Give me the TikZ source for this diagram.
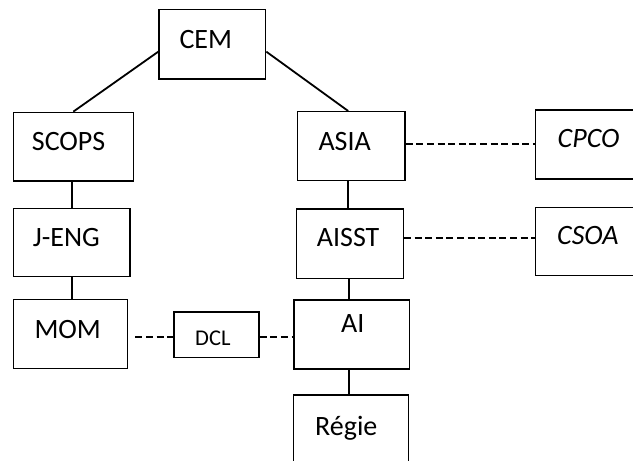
\documentclass[tikz,border=0pt]{standalone}
\usepackage{fontspec}
\setmainfont{Carlito}
\usetikzlibrary{calc}
\begin{document}
\begin{tikzpicture}[x=1pt,y=-1pt,
  box/.style={draw=black,line width=1.4pt,inner sep=0pt,fill=white},
  lbl/.style={anchor=base west,inner sep=0pt,font=\fontsize{28}{32}\selectfont},
  small/.style={anchor=base west,inner sep=0pt,font=\fontsize{22.5}{26}\selectfont},
  link/.style={draw=black,line width=1.8pt},
  dlink/.style={draw=black,line width=2pt,dash pattern=on 7pt off 3.6pt}]
\useasboundingbox (0,0) rectangle (633,461);

% boxes of the chart
\node[box,minimum width=106.7pt,minimum height=69.7pt] (cem)   at (212.3,44.2)  {};
\node[box,minimum width=120pt,  minimum height=68.7pt] (scops) at (73.3,146.7)  {};
\node[box,minimum width=116.7pt,minimum height=68.4pt] (jeng)  at (71.7,242.5)  {};
\node[box,minimum width=114.4pt,minimum height=69pt]   (mom)   at (70.5,333.8)  {};
\node[box,minimum width=107.7pt,minimum height=69pt]   (asia)  at (351.2,146.2) {};
\node[box,minimum width=106.6pt,minimum height=69.3pt] (aisst) at (350,243.7)   {};
\node[box,minimum width=108pt,  minimum height=69pt]   (cpco)  at (589.7,144.5) {};
\node[box,minimum width=108pt,  minimum height=68.4pt] (csoa)  at (589.7,241.5) {};
\node[box,minimum width=85pt,   minimum height=45.7pt] (dcl)   at (216.5,334.9) {};
\node[box,minimum width=115.3pt,minimum height=69pt]   (ai)    at (351.7,334.5) {};
\node[box,minimum width=115pt,  minimum height=76pt]   (regie) at (350.8,433)   {};

% labels
\node[lbl] (tcem)   at (179.3,48.3)  {CEM};
\node[lbl] (tscops) at (31.7,150)    {SCOPS};
\node[lbl] (tjeng)  at (32.7,246.7)  {J-ENG};
\node[lbl] (tmom)   at (34.3,338.3)  {MOM};
\node[lbl] (tasia)  at (318.3,150)   {ASIA};
\node[lbl] (taisst) at (316.7,246.7) {AISST};
\node[lbl] (tcpco)  at (557.5,147.7) {\itshape CPCO};
\node[lbl] (tcsoa)  at (557,244.3)   {\itshape CSOA};
\node[lbl] (tai)    at (341,332.3)   {AI};
\node[lbl] (tregie) at (315,435.7)   {Régie};
\node[small] (tdcl) at (195,345)     {DCL};

% solid hierarchy lines
\draw[link] ([yshift=-7.5pt]cem.west) -- (scops.north);
\draw[link] ([yshift=-7.5pt]cem.east) -- ([xshift=-3pt]asia.north);
\draw[link] (jeng.north |- scops.south) -- (jeng.north);
\draw[link] (jeng.south) -- (jeng.south |- mom.north);
\draw[link] ([xshift=-2pt]aisst.north) -- ([xshift=-2pt]aisst.north |- asia.south);
\draw[link] ([xshift=-1pt]aisst.south) -- ([xshift=-1pt]aisst.south |- ai.north);
\draw[link] ([xshift=-2.5pt]ai.south) -- ([xshift=-2.5pt]ai.south |- regie.north);

% dashed links
\coordinate (c1) at ([yshift=0.5pt]cpco.west);
\coordinate (c2) at ([yshift=3.5pt]csoa.west);
\coordinate (d1) at ([yshift=-2.1pt]dcl.west);
\coordinate (d2) at ([yshift=-2.1pt]dcl.east);
\draw[dlink] (c1 -| asia.east) -- (c1);
\draw[dlink] (c2 -| aisst.east) -- (c2);
\draw[dlink] ([xshift=7pt]d1 -| mom.east) -- (d1);
\draw[dlink] (d2) -- ([xshift=2pt]d2 -| ai.west);
\end{tikzpicture}
\end{document}
